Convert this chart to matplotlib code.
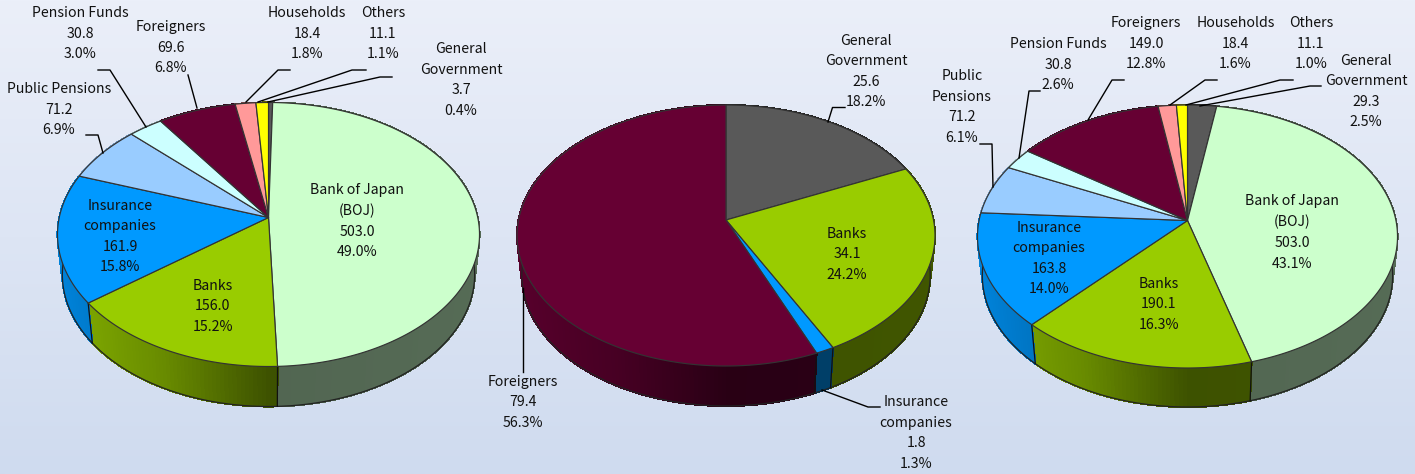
import numpy as np
import matplotlib
matplotlib.use("Agg")
import matplotlib.pyplot as plt
from matplotlib.collections import PolyCollection
from matplotlib.colors import to_rgb

plt.rcParams['font.family'] = ['Noto Sans CJK JP', 'DejaVu Sans']

# ---- data ----
names_1 = ["General\nGovernment", "Bank of Japan\n(BOJ)", "Banks", "Insurance\ncompanies", "Public Pensions",
           "Pension Funds", "Foreigners", "Households", "Others"]
values_1 = [3.7, 503.0, 156.0, 161.9, 71.2, 30.8, 69.6, 18.4, 11.1]
percent_1 = [0.4, 49.0, 15.2, 15.8, 6.9, 3.0, 6.8, 1.8, 1.1]

names_2 = ["General\nGovernment", "Banks", "Insurance\ncompanies", "Foreigners"]
values_2 = [25.6, 34.1, 1.8, 79.4]
percent_2 = [18.2, 24.2, 1.3, 56.3]

names_3 = ["General\nGovernment", "Bank of Japan\n(BOJ)", "Banks", "Insurance\ncompanies", "Public\nPensions",
           "Pension Funds", "Foreigners", "Households", "Others"]
values_3 = [29.3, 503.0, 190.1, 163.8, 71.2, 30.8, 149.0, 18.4, 11.1]
percent_3 = [2.5, 43.1, 16.3, 14.0, 6.1, 2.6, 12.8, 1.6, 1.0]

colors = {"General": "#595959", "Bank": "#CCFFCC", "Banks": "#99CC00", "Insurance": "#0099FF",
          "Public": "#99CCFF", "Pension": "#CCFFFF", "Foreigners": "#660033",
          "Households": "#FF9999", "Others": "#FFFF00"}

# ---- layout (pixels) ----
W, H = 1415, 474
geoms = [dict(cx=268.5, cy=217.5, xr=211, up=115, dn=149, depth=40),
         dict(cx=726, cy=220, xr=209, up=115, dn=146, depth=40),
         dict(cx=1187.5, cy=220.5, xr=210, up=115.5, dn=147.5, depth=39)]

label_pos_1 = [(461, 80), (357, 221), (213, 306.5), (120, 236.5), (59, 109.5), (80, 33.5), (170.5, 47.5), (307, 33.5), (383, 33.5)]
label_pos_2 = [(866, 71.5), (847, 254.5), (916, 433), (523, 402.5)]
label_pos_3 = [(1366, 91.5), (1292, 232.5), (1159, 304.5), (1049, 258.5), (962, 107), (1058, 64.5), (1146, 43.5), (1235.5, 43.5), (1311, 43.5)]

leaders = [
    [(98, 70), (110, 70), (146, 127)], [(188, 75), (197, 108)],
    [(290, 70), (278, 70), (246, 102)], [(366, 70), (352, 70), (258, 102)],
    [(392, 77), (380, 77), (268, 102)], [(86, 135), (98, 135), (103, 153)],
    [(845, 107.5), (832.5, 107.5), (828, 122)], [(523, 372), (523, 288)], [(880, 407), (868, 407), (822, 390)],
    [(1124, 80), (1112, 80), (1088, 120)], [(1217, 80), (1205, 80), (1170, 105)],
    [(1293, 80), (1280, 80), (1186, 105)], [(1321, 86), (1310, 86), (1200, 106)],
    [(1040, 91), (1029, 91), (1019, 158)], [(980, 144), (992, 144), (993, 187)],
]

fig = plt.figure(figsize=(W / 100, H / 100), dpi=100)
ax = fig.add_axes([0, 0, 1, 1])
ax.set_xlim(0, W)
ax.set_ylim(H, 0)
ax.axis("off")

grad = np.linspace(0, 1, 256)[:, None]
top, bottom = np.array(to_rgb("#EBEFF9")), np.array(to_rgb("#CFDBEF"))
ax.imshow(top + (bottom - top) * grad[..., None], extent=(0, W, H, 0), aspect="auto", zorder=0)

FX = 0.977


def projector(g):
    k = (g["dn"] - g["up"]) / (g["dn"] + g["up"])
    hh = g["up"] * (1 + k)
    rr = g["xr"] * np.sqrt(1 - k * k)

    def proj(th):
        # th: clockwise angle from 12 o'clock, radians
        c, s = np.sin(th), np.cos(th)
        w = 1 + k * s
        return rr * c / w, hh * s / w
    return proj


def shade(t):
    return np.interp(t, [-1, -0.5, 0.0, 1], [0.85, 0.68, 0.40, 0.42])


def draw_pie(g, names, values):
    proj = projector(g)
    vals = np.asarray(values, float)
    edges = np.concatenate([[0], np.cumsum(vals)]) / vals.sum() * 2 * np.pi
    cols = [colors[n.split()[0].split("\n")[0]] if n != "Banks" else colors["Banks"] for n in names]
    cols = [colors["Bank"] if n.startswith("Bank of") else c for n, c in zip(names, cols)]
    cx, cy, depth = g["cx"], g["cy"], g["depth"]
    edge = "#333333"

    # side wall
    for a0, a1, col in zip(edges[:-1], edges[1:], cols):
        n = max(2, int((a1 - a0) / np.radians(1.0)) + 1)
        th = np.linspace(a0, a1, n)
        X, Y = proj(th)
        xt, yt = cx + X, cy - Y
        xb, yb = cx + X * FX, cy - Y + depth
        polys, fcs = [], []
        base = np.array(to_rgb(col))
        for i in range(n - 1):
            polys.append([(xt[i], yt[i]), (xt[i + 1], yt[i + 1]), (xb[i + 1], yb[i + 1]), (xb[i], yb[i])])
            fcs.append(base * shade(0.5 * (X[i] + X[i + 1]) / g["xr"]))
        ax.add_collection(PolyCollection(polys, facecolors=fcs, edgecolors=fcs, linewidths=0.8,
                                         antialiased=False, zorder=2))
        ax.plot(xb, yb, color="#222222", lw=0.9, zorder=3, solid_capstyle="round")
    for a in edges:
        X, Y = proj(np.array([a]))
        if np.cos(a) < -0.1:
            ax.plot([cx + X[0], cx + X[0] * FX], [cy - Y[0], cy - Y[0] + depth], color="#111111", lw=0.9, zorder=3)

    # top face
    for a0, a1, col in zip(edges[:-1], edges[1:], cols):
        n = max(2, int((a1 - a0) / np.radians(0.5)) + 1)
        th = np.linspace(a0, a1, n)
        X, Y = proj(th)
        xs = np.concatenate([[cx], cx + X])
        ys = np.concatenate([[cy], cy - Y])
        ax.fill(xs, ys, facecolor=col, edgecolor=edge, lw=0.85, joinstyle="round", zorder=4)


def draw_labels(names, values, percents, positions):
    for n, v, p, (x, y) in zip(names, values, percents, positions):
        ax.text(x, y, f"{n}\n{v:.1f}\n{p:.1f}%", ha="center", va="center", fontsize=10.2,
                linespacing=1.6, color="#111111", zorder=6)


for g, (nm, va) in zip(geoms, [(names_1, values_1), (names_2, values_2), (names_3, values_3)]):
    draw_pie(g, nm, va)
draw_labels(names_1, values_1, percent_1, label_pos_1)
draw_labels(names_2, values_2, percent_2, label_pos_2)
draw_labels(names_3, values_3, percent_3, label_pos_3)

for pts in leaders:
    xs, ys = zip(*pts)
    ax.plot(xs, ys, color="black", lw=1.0, zorder=5)

fig.savefig("out.png", dpi=100)
